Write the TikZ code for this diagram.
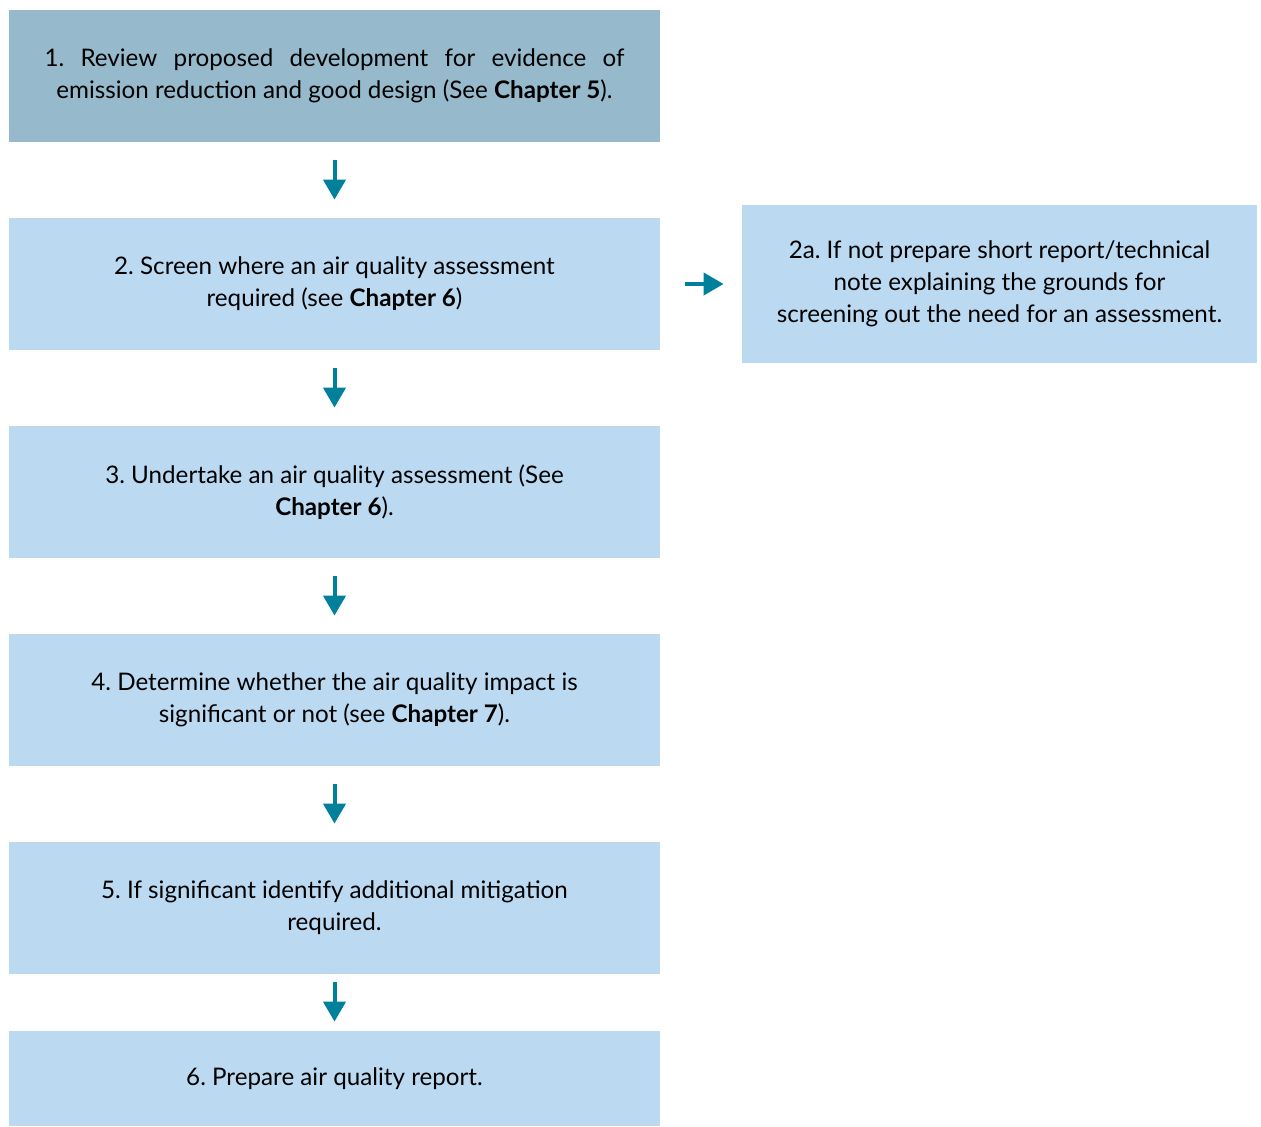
\documentclass[tikz,border=0pt]{standalone}
\usepackage{fontspec}
\setmainfont{Lato}
\usetikzlibrary{arrows.meta}
\definecolor{stepdark}{HTML}{96BACC}
\definecolor{steplight}{HTML}{BBDAF2}
\definecolor{arrowteal}{HTML}{00809A}
\tikzset{
  stepbox/.style={rectangle, fill=steplight, inner sep=0pt, minimum width=325.5pt, minimum height=66pt, align=center, font=\fontsize{12.1}{16}\selectfont\frenchspacing},
  flow/.style={draw=arrowteal, line width=2pt, -{Triangle[width=11pt, length=10pt]}, shorten <=9pt, shorten >=9pt}
}
\begin{document}
\begin{tikzpicture}[x=0.5pt, y=-0.5pt]
      \useasboundingbox (0,0) rectangle (1261,1126);
      \node[stepbox, fill=stepdark] (s1) at (334.5,76) {\makebox[290pt][s]{1. Review proposed development for evidence of}\\emission reduction and good design (See \textbf{Chapter 5}).};
      \node[stepbox] (s2) at (334.5,284) {2. Screen where an air quality assessment\\required (see \textbf{Chapter 6})};
      \node[stepbox] (s3) at (334.5,492) {3. Undertake an air quality assessment (See\\\textbf{Chapter 6}).};
      \node[stepbox] (s4) at (334.5,700) {4. Determine whether the air quality impact is\\significant or not (see \textbf{Chapter 7}).};
      \node[stepbox] (s5) at (334.5,908) {5. If significant identify additional mitigation\\required.};
      \node[stepbox, minimum height=47.5pt] (s6) at (334.5,1078.5) {6. Prepare air quality report.};
      \node[stepbox, minimum width=257.5pt, minimum height=79pt] (s2a) at (999.5,284) {2a. If not prepare short report/technical\\note explaining the grounds for\\screening out the need for an assessment.};

      \draw[flow] (s1) -- (s2);
      \draw[flow] (s2) -- (s3);
      \draw[flow] (s3) -- (s4);
      \draw[flow] (s4) -- (s5);
      \draw[flow, shorten <=4pt, shorten >=4.5pt] (s5) -- (s6);
      \draw[flow, shorten <=12.5pt] (s2) -- (s2a);
    \end{tikzpicture}
\end{document}
